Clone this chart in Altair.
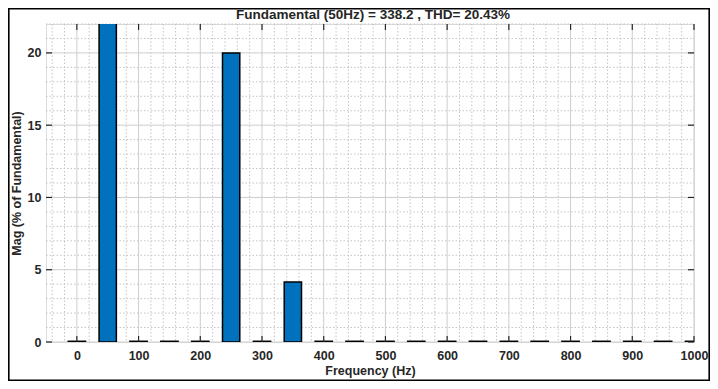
import altair as alt
import pandas as pd

# ---- data ----
harm_freq = [0, 50, 100, 150, 200, 250, 300, 350, 400, 450, 500,
             550, 600, 650, 700, 750, 800, 850, 900, 950, 1000]
harm_mag = [0.05, 100.0, 0.05, 0.05, 0.05, 20.0, 0.05, 4.15, 0.05, 0.05, 0.05,
            0.05, 0.05, 0.05, 0.05, 0.05, 0.05, 0.05, 0.05, 0.05, 0.05]
bar_half_width = 14  # Hz

x_major = [0, 100, 200, 300, 400, 500, 600, 700, 800, 900, 1000]
x_minor = [v for v in range(-40, 1001, 20) if v % 100 != 0]
y_major = [0, 5, 10, 15, 20]
y_minor = [v for v in range(0, 23) if v % 5 != 0]

title_text = "Fundamental (50Hz) = 338.2 , THD= 20.43%"
x_title = "Frequency (Hz)"
y_title = "Mag (% of Fundamental)"

W, H = 648, 318
TOTAL_W, TOTAL_H = 702, 373
PAD_L, PAD_T = 38, 16
FONT = "Liberation Sans"
TXT = "#262626"
FS = 12.5

xs = alt.Scale(domain=[-50, 1000], nice=False, zero=False)
ys = alt.Scale(domain=[0, 22], nice=False, zero=False)

common = dict(format="d", tickSize=0, domain=False, grid=False,
              labelFont=FONT, titleFont=FONT, labelFontSize=FS, titleFontSize=FS,
              labelFontWeight="bold", titleFontWeight="bold",
              labelColor=TXT, titleColor=TXT)
xaxis = alt.Axis(values=x_major, labelPadding=7, titlePadding=3,
                 labelFlush=False, labelOverlap=False, **common)
yaxis = alt.Axis(values=y_major, labelPadding=5, titlePadding=4, **common)


def X(field):
    return alt.X(field, scale=xs, axis=xaxis, title=x_title)


def Y(field):
    return alt.Y(field, scale=ys, axis=yaxis, title=y_title)


bars_df = pd.DataFrame({"f": harm_freq, "m": harm_mag})
xmaj_df = pd.DataFrame({"v": x_major})
xmin_df = pd.DataFrame({"v": x_minor})
ymaj_df = pd.DataFrame({"v": y_major})
ymin_df = pd.DataFrame({"v": y_minor})

grid_col = "#cdcdcd"
minor_col = "#c4c4c4"

vminor = alt.Chart(xmin_df).mark_rule(color=minor_col, strokeDash=[1.5, 2], strokeWidth=1).encode(
    x=X("v:Q"), y=alt.value(0), y2=alt.value(H))
vmajor = alt.Chart(xmaj_df).mark_rule(color=grid_col, strokeWidth=1).encode(
    x=X("v:Q"), y=alt.value(0), y2=alt.value(H))
hminor = alt.Chart(ymin_df).mark_rule(color=minor_col, strokeDash=[1.5, 2], strokeWidth=1).encode(
    y=Y("v:Q"), x=alt.value(0), x2=alt.value(W))
hmajor = alt.Chart(ymaj_df).mark_rule(color=grid_col, strokeWidth=1).encode(
    y=Y("v:Q"), x=alt.value(0), x2=alt.value(W))

bars = alt.Chart(bars_df).transform_calculate(
    f0=f"datum.f - {bar_half_width}", f1=f"datum.f + {bar_half_width}"
).mark_bar(color="#0072BD", stroke="#000000", strokeWidth=1.5, clip=True).encode(
    x=X("f0:Q"),
    x2="f1:Q",
    y=Y("m:Q"),
    y2=alt.datum(0),
)

tick_col = "#262626"
tb = alt.Chart(xmaj_df).mark_rule(color=tick_col, strokeWidth=1.2).encode(
    x=X("v:Q"), y=alt.value(H), y2=alt.value(H - 6))
tt = alt.Chart(xmaj_df).mark_rule(color=tick_col, strokeWidth=1.2).encode(
    x=X("v:Q"), y=alt.value(0), y2=alt.value(6))
tl = alt.Chart(ymaj_df).mark_rule(color=tick_col, strokeWidth=1.2).encode(
    y=Y("v:Q"), x=alt.value(0), x2=alt.value(6))
tr = alt.Chart(ymaj_df).mark_rule(color=tick_col, strokeWidth=1.2).encode(
    y=Y("v:Q"), x=alt.value(W), x2=alt.value(W - 6))

one = pd.DataFrame({"a": [0]})
title = alt.Chart(one).mark_text(
    font=FONT, fontSize=13.5, fontWeight="bold", color=TXT, baseline="alphabetic",
    align="center", clip=False).encode(
    x=alt.value(W / 2 + 3), y=alt.value(-5), text=alt.value(title_text))

border = alt.Chart(one).mark_rect(
    fill=None, stroke="#000000", strokeWidth=1.6, clip=False).encode(
    x=alt.value(-PAD_L + 0.8), x2=alt.value(TOTAL_W - PAD_L - 0.8),
    y=alt.value(-PAD_T + 0.8), y2=alt.value(TOTAL_H - PAD_T - 0.8))

chart = alt.layer(vminor, vmajor, hminor, hmajor, bars, tb, tt, tl, tr, title, border).properties(
    width=W, height=H,
    autosize=alt.AutoSizeParams(type="none"),
    padding={"left": PAD_L, "top": PAD_T, "right": TOTAL_W - PAD_L - W,
             "bottom": TOTAL_H - PAD_T - H},
).configure_view(stroke="#262626", strokeWidth=1.4).configure(background="white")

chart.save("out.html", embed_options={"renderer": "svg", "actions": False})
